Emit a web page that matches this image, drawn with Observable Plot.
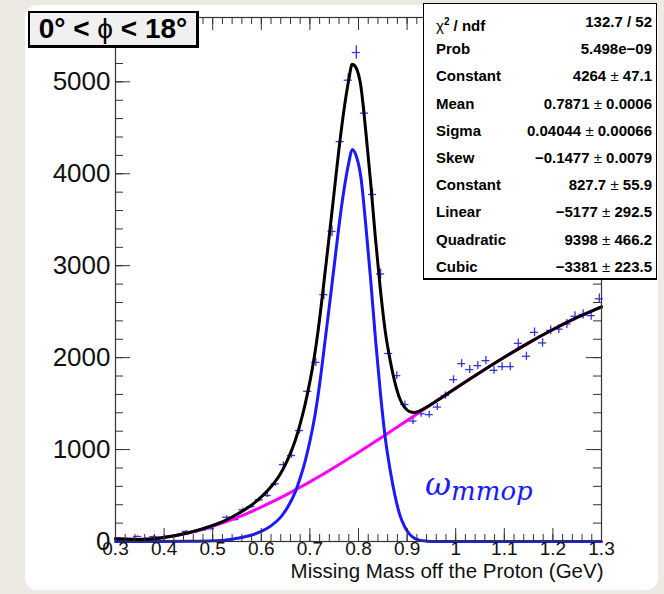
<!DOCTYPE html>
<html>
<head>
<meta charset="utf-8">
<script src="https://cdn.jsdelivr.net/npm/d3@7"></script>
<script src="https://cdn.jsdelivr.net/npm/@observablehq/plot@0.6"></script>
<style>
  html, body { margin: 0; padding: 0; background: #edeae3; }
  #wrap { position: relative; width: 664px; height: 594px; overflow: hidden; font-family: "Liberation Sans", Arial, Helvetica, sans-serif; }
  #panel { position: absolute; left: 25px; top: 5px; width: 633px; height: 585px; background: #fff; border-radius: 12px; }
  #chart { position: absolute; left: 0; top: 0; }
  #title { position: absolute; left: 28px; top: 11px; width: 166px; height: 32px; border: 2px solid #000; border-right-width: 3px; border-bottom-width: 3px;
           background: #f0f0f0; font-weight: bold; font-size: 28px; line-height: 32px; text-align: center; white-space: nowrap; color: #000; }
  #title .sym { font-weight: normal; }
  #stats { position: absolute; left: 423px; top: 3px; width: 232px; height: 274px; border: 1px solid #000; border-bottom-width: 2px; background: #fff; }
  .row { position: absolute; left: 12px; right: 4px; height: 18px; line-height: 18px; font-size: 15px; font-weight: bold; color: #000; white-space: nowrap; }
  .row .lab { position: absolute; left: 0; }
  .row .val { position: absolute; right: 0; }
  .row .nb { font-weight: normal; }
  #omega { position: absolute; left: 425px; top: 465px; color: #1a1aff; font-family: "DejaVu Serif", "Liberation Serif", serif; font-style: italic; white-space: nowrap; }
  #omega .w { font-size: 32px; }
  #omega .sub { font-size: 26px; position: relative; top: 5px; }
</style>
</head>
<body>
<div id="wrap">
  <div id="panel"></div>
  <div id="chart"></div>
  <div id="title"><span>0° &lt; </span><span class="sym">ϕ</span><span> &lt; 18°</span></div>
  <div id="stats"></div>
  <div id="omega"><span class="w">ω</span><span class="sub">mmop</span></div>
</div>
<script>
// ---- data points (histogram bins) ----
const binCenters = [0.3122,0.3288,0.3455,0.3622,0.3788,0.3955,0.4122,0.4288,0.4455,0.4622,
  0.4788,0.4955,0.5122,0.5288,0.5455,0.5622,0.5788,0.5955,0.6122,0.6288,
  0.6455,0.6622,0.6788,0.6955,0.7122,0.7288,0.7455,0.7622,0.7788,0.7955,
  0.8122,0.8288,0.8455,0.8622,0.8788,0.8955,0.9122,0.9288,0.9455,0.9622,
  0.9788,0.9955,1.0122,1.0288,1.0455,1.0622,1.0788,1.0955,1.1122,1.1288,
  1.1455,1.1622,1.1788,1.1955,1.2122,1.2288,1.2455,1.2622,1.2788,1.2955];
const counts = [25,30,54,35,54,48,60,75,109,105,
  125,138,195,264,239,345,380,453,500,627,
  837,935,1207,1634,1949,2685,3373,4350,5018,5319,
  4660,3775,2910,2045,1804,1490,1310,1390,1380,1462,
  1587,1760,1935,1870,1913,1967,1862,1902,1902,2155,
  2015,2275,2160,2297,2310,2366,2450,2470,2457,2640];
const binWidth = 1/60;

// ---- fit curves ----
const fitX = [0.30,0.35,0.40,0.45,0.50,0.525,0.55,0.575,0.60,0.62,0.64,0.655,0.67,0.68,0.69,0.70,0.71,0.72,0.73,0.74,0.75,0.76,0.77,0.78,0.787,0.795,0.805,0.815,0.825,0.835,0.845,0.855,0.865,0.875,0.885,0.895,0.905,0.915,0.925,0.94,0.96,1.00,1.05,1.10,1.15,1.20,1.25,1.30];
const fitTotal = [29.1,22.1,44.2,95.1,174.1,225.9,295.7,377.4,484.5,594.8,742.5,898.7,1101.0,1279.9,1489.3,1739.1,2039.5,2420.2,2871.4,3333.0,3805.0,4277.3,4689.9,5022.9,5190.2,5152.9,4946.6,4460.6,3904.7,3289.1,2743.6,2288.3,1973.2,1728.2,1553.3,1458.4,1413.7,1403.9,1419.2,1461.2,1527.7,1667.7,1839.2,2004.5,2160.9,2306.1,2437.3,2553.2];
const fitSignal = [0,0,0,2,8,15,35,62,110,170,265,380,540,690,870,1090,1360,1710,2130,2560,3000,3440,3820,4120,4264,4200,3960,3440,2850,2200,1620,1130,780,500,290,160,80,35,15,4,0,0,0,0,0,0,0,0];
const fitBackground = [29.1,22.1,44.2,93.1,166.1,210.9,260.7,315.4,374.5,424.8,477.5,518.7,561.0,589.9,619.3,649.1,679.5,710.2,741.4,773.0,805.0,837.3,869.9,902.9,926.2,952.9,986.6,1020.6,1054.7,1089.1,1123.6,1158.3,1193.2,1228.2,1263.3,1298.4,1333.7,1368.9,1404.2,1457.2,1527.7,1667.7,1839.2,2004.5,2160.9,2306.1,2437.3,2553.2];

// ---- axes ----
const xMajor = [0.3,0.4,0.5,0.6,0.7,0.8,0.9,1.0,1.1,1.2,1.3];
const xTickLabels = ["0.3","0.4","0.5","0.6","0.7","0.8","0.9","1","1.1","1.2","1.3"];
const yMajor = [0,1000,2000,3000,4000,5000];
const yTickLabels = ["0","1000","2000","3000","4000","5000"];
const xMinor = d3.range(0, 51).map(i => 0.3 + i * 0.02).filter(v => v <= 1.3001);
const yMinor = d3.range(0, 29).map(i => i * 200);
const xTitle = "Missing Mass off the Proton (GeV)";

// ---- stats box ----
const statLabels = ["χ²/ndf","Prob","Constant","Mean","Sigma","Skew","Constant","Linear","Quadratic","Cubic"];
const statValues = ["132.7 / 52","5.498e−09","4264 ± 47.1","0.7871 ± 0.0006","0.04044 ± 0.00066","−0.1477 ± 0.0079","827.7 ± 55.9","−5177 ± 292.5","9398 ± 466.2","−3381 ± 223.5"];

const points = binCenters.map((x, i) => ({
  x, y: counts[i],
  x1: x - binWidth / 2, x2: x + binWidth / 2,
  y1: counts[i] - Math.sqrt(counts[i]), y2: counts[i] + Math.sqrt(counts[i])
}));
const fit = fitX.map((x, i) => ({x, tot: fitTotal[i], sig: fitSignal[i], bg: fitBackground[i]}));

const W = 664, H = 594, mL = 115, mR = 63, mT = 17, mB = 53;
const FW = W - mL - mR, FH = H - mT - mB;
const axisColor = "#333";
const crossColor = "#3535d8";

const chart = Plot.plot({
  width: W, height: H,
  marginLeft: mL, marginRight: mR, marginTop: mT, marginBottom: mB,
  x: {domain: [0.3, 1.3], axis: null},
  y: {domain: [0, 5700], axis: null},
  style: {background: "transparent", fontFamily: "'Liberation Sans', Arial, Helvetica, sans-serif", color: "#111", overflow: "visible"},
  marks: [
    Plot.ruleY(points, {y: "y", x1: "x1", x2: "x2", stroke: crossColor, strokeWidth: 1.3}),
    Plot.ruleX(points, {x: "x", y1: "y1", y2: "y2", stroke: crossColor, strokeWidth: 1.3}),
    Plot.line(fit, {x: "x", y: "bg", stroke: "#ff00ff", strokeWidth: 3, curve: "monotone-x"}),
    Plot.line(fit, {x: "x", y: "sig", stroke: "#1a1aff", strokeWidth: 3, curve: "monotone-x"}),
    Plot.line(fit, {x: "x", y: "tot", stroke: "#000", strokeWidth: 3, curve: "monotone-x"}),
    Plot.frame({stroke: axisColor, strokeWidth: 1.2}),
    // left / right y ticks (inside)
    Plot.tickY(yMajor, {y: d => d, insetRight: FW - 15, stroke: axisColor}),
    Plot.tickY(yMinor, {y: d => d, insetRight: FW - 8, stroke: axisColor}),
    Plot.tickY(yMajor, {y: d => d, insetLeft: FW - 15, stroke: axisColor}),
    Plot.tickY(yMinor, {y: d => d, insetLeft: FW - 8, stroke: axisColor}),
    // bottom / top x ticks (inside)
    Plot.tickX(xMajor, {x: d => d, insetTop: FH - 13, stroke: axisColor}),
    Plot.tickX(xMinor, {x: d => d, insetTop: FH - 7, stroke: axisColor}),
    Plot.tickX(xMajor, {x: d => d, insetBottom: FH - 13, stroke: axisColor}),
    Plot.tickX(xMinor, {x: d => d, insetBottom: FH - 7, stroke: axisColor}),
    // tick labels
    Plot.text(yMajor, {y: d => d, text: (d, i) => yTickLabels[i], frameAnchor: "left", dx: -5, textAnchor: "end", fontSize: 26, fill: "#111"}),
    Plot.text(xMajor, {x: d => d, text: (d, i) => xTickLabels[i], frameAnchor: "bottom", dy: 13, fontSize: 19, fill: "#111"}),
    Plot.text([xTitle], {text: d => d, frameAnchor: "bottom-right", dx: 2, dy: 36, textAnchor: "end", fontSize: 20.5, fill: "#111"})
  ]
});
document.getElementById("chart").appendChild(chart);

// stats rows
const stats = document.getElementById("stats");
statLabels.forEach((lab, i) => {
  const row = document.createElement("div");
  row.className = "row";
  row.style.top = (9 + 27.2 * i) + "px";
  const l = document.createElement("span");
  l.className = "lab";
  if (lab === "χ²/ndf") l.innerHTML = '<span class="nb">χ</span><sup style="font-size:10px">2</sup> / ndf';
  else l.textContent = lab;
  const v = document.createElement("span");
  v.className = "val";
  v.innerHTML = statValues[i].replace("±", '<span class="nb">±</span>');
  row.appendChild(l); row.appendChild(v);
  stats.appendChild(row);
});
</script>
</body>
</html>
